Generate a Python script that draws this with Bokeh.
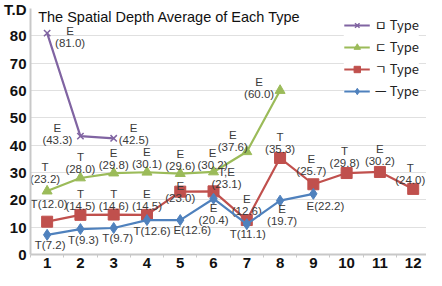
from bokeh.plotting import figure
from bokeh.models import ColumnDataSource, FixedTicker, Legend, LegendItem, Label, Range1d
from bokeh.core.properties import value
from bokeh.embed import file_html
from bokeh.resources import INLINE

# ---------------- data ----------------
x_all = [1, 2, 3, 4, 5, 6, 7, 8, 9, 10, 11, 12]
x_ticks = [str(i) for i in x_all]
y_ticks = [0, 10, 20, 30, 40, 50, 60, 70, 80, 90]
y_tick_labels = ["0", "10", "20", "30", "40", "50", "60", "70", "80", "T.D"]

series_names = ["ㅁ Type", "ㄷ Type", "ㄱ Type", "ㅡ Type"]

m_x = [1, 2, 3]
m_y = [81.0, 43.3, 42.5]
m_lab = ["E", "E", "E"]

d_x = [1, 2, 3, 4, 5, 6, 7, 8]
d_y = [23.2, 28.0, 29.8, 30.1, 29.6, 30.2, 37.6, 60.0]
d_lab = ["T", "T", "E", "E", "E", "E", "E", "E"]

g_x = [1, 2, 3, 4, 5, 6, 7, 8, 9, 10, 11, 12]
g_y = [12.0, 14.5, 14.6, 14.5, 23.0, 23.1, 12.6, 35.3, 25.7, 29.8, 30.2, 24.0]
g_lab = ["T", "T", "T", "E", "E", "T,E", "E", "T", "E", "T", "E", "T"]

h_x = [1, 2, 3, 4, 5, 6, 7, 8, 9]
h_y = [7.2, 9.3, 9.7, 12.6, 12.6, 20.4, 11.1, 19.7, 22.2]
h_lab = ["T", "T", "T", "T", "E", "E", "T", "E", "E"]

# ---------------- label layout (pixels) ----------------
m_dx = [23, -23, 20]
m_dy = [4, -2, -4]
m_inline = [False, False, False]

d_dx = [-2, 0, 0, 0, 0, -1, -14, -21]
d_dy = [-18, -15, -14, -14, -14, -13, -11, -3]
d_inline = [False] * 8

g_dx = [2, 0, 0, 0, 0, 13, 0, 0, -2, -2, 0, -3]
g_dy = [-18, -15, -15, -15, 0, -13, -15, -15, -19, -16, -17, -15]
g_inline = [True] + [False] * 11

h_dx = [3, 3, 4, 5, 12, 0, 1, 2, 12]
h_dy = [10, 11, 10, 11, 10, 15, 10, 14, 12]
h_inline = [True, True, True, True, True, False, True, False, True]

colors = ["#8064A2", "#9BBB59", "#C0504D", "#4F81BD"]

p = figure(width=426, height=270, output_backend="svg", toolbar_location=None,
           x_range=Range1d(0.5, 12.4), y_range=Range1d(0, 90),
           min_border_left=29, min_border_right=0, min_border_top=8, min_border_bottom=14)
p.outline_line_color = None
p.background_fill_color = "white"
p.border_fill_color = "white"

# axes
p.xaxis.ticker = FixedTicker(ticks=x_all, minor_ticks=[i + 0.5 for i in range(0, 13)])
p.xaxis.major_label_overrides = {i: t for i, t in zip(x_all, x_ticks)}
p.yaxis.ticker = FixedTicker(ticks=y_ticks)
p.yaxis.major_label_overrides = {t: s for t, s in zip(y_ticks, y_tick_labels)}
for ax in (p.xaxis, p.yaxis):
    ax.major_label_text_font = "Liberation Sans"
    ax.major_label_text_font_style = "bold"
    ax.major_label_text_font_size = "15px"
    ax.major_label_text_color = "#111111"
    ax.axis_line_color = "#c8c8c8"
    ax.axis_line_width = 2
    ax.major_tick_line_color = None
    ax.major_tick_in = 0
    ax.major_tick_out = 0
p.xaxis.minor_tick_line_color = "#c8c8c8"
p.xaxis.minor_tick_in = 0
p.xaxis.minor_tick_out = 3
p.xaxis.major_label_standoff = 0
p.yaxis.minor_tick_line_color = None
p.yaxis.major_label_standoff = 4

p.xgrid.grid_line_color = None
p.ygrid.ticker = FixedTicker(ticks=[10, 20, 30, 40, 50, 60, 70, 80, 90])
p.ygrid.grid_line_color = "#e0e0e0"
p.ygrid.grid_line_width = 1

items = []
specs = [
    (m_x, m_y, m_lab, m_dx, m_dy, m_inline, "x", 9),
    (d_x, d_y, d_lab, d_dx, d_dy, d_inline, "triangle", 10),
    (g_x, g_y, g_lab, g_dx, g_dy, g_inline, "square", 11),
    (h_x, h_y, h_lab, h_dx, h_dy, h_inline, "diamond", 11),
]
for (xs, ys, labs, dxs, dys, inl, mk, sz), col, name in zip(specs, colors, series_names):
    src = ColumnDataSource(dict(x=xs, y=ys))
    ln = p.line("x", "y", source=src, line_color=col, line_width=2.2)
    if mk == "x":
        sc = p.scatter("x", "y", source=src, marker=mk, size=sz, line_color=col, line_width=1.5)
    else:
        sc = p.scatter("x", "y", source=src, marker=mk, size=sz, fill_color=col, line_color=col)
    texts = [(f"{l}({v:.1f})" if one else f"{l}\n({v:.1f})") for l, v, one in zip(labs, ys, inl)]
    lsrc = ColumnDataSource(dict(x=xs, y=ys, t=texts, dx=dxs, dy=dys))
    p.text("x", "y", text="t", source=lsrc, x_offset="dx", y_offset="dy",
           text_align="center", text_baseline="middle",
           text_font=value("Liberation Sans"), text_font_size="11.5px",
           text_color="#3a3a3a", text_line_height=1.0)
    items.append(LegendItem(label=name, renderers=[ln, sc]))

legend = Legend(items=items, location="top_right", margin=7, padding=4,
                spacing=3, label_height=18, glyph_width=26, glyph_height=16,
                label_text_font="Noto Sans CJK KR", label_text_font_size="13px",
                label_text_color="#222222", label_standoff=5,
                border_line_color=None, background_fill_color="white", background_fill_alpha=1.0)
p.add_layout(legend, "center")

p.add_layout(Label(x=0.73, y=87, text="The Spatial Depth Average of Each Type",
                   text_align="left", text_baseline="middle",
                   text_font="Liberation Sans", text_font_size="14.5px", text_color="#111111"))

open("out.html", "w").write(file_html(p, INLINE))
